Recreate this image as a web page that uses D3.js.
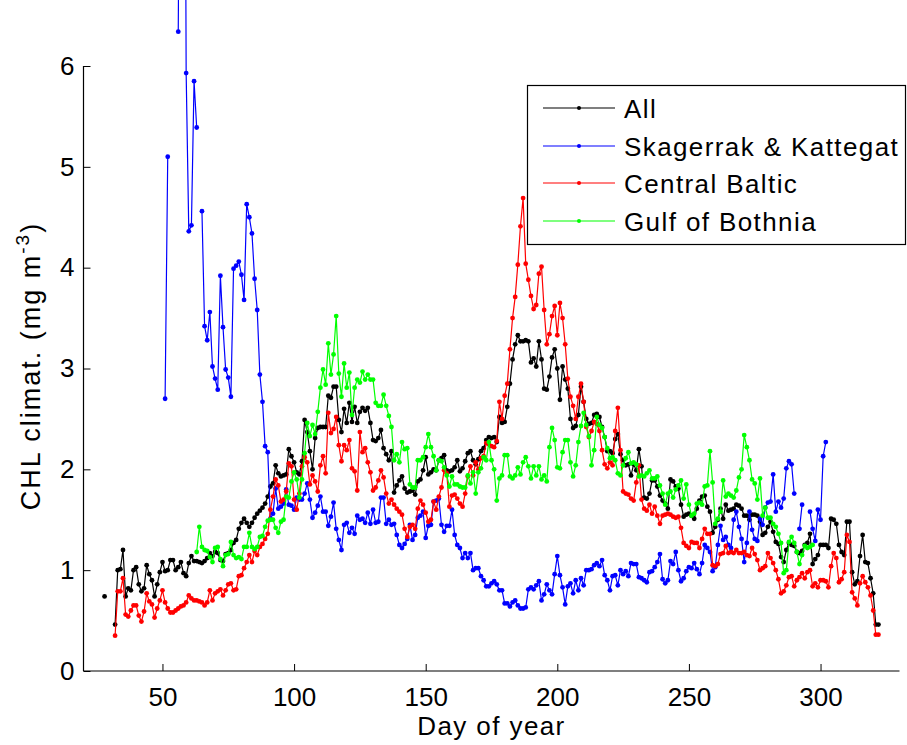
<!DOCTYPE html>
<html>
<head>
<meta charset="utf-8">
<script src="https://cdn.jsdelivr.net/npm/d3@7"></script>
<style>
body { margin: 0; background: #fff; }
text { font-family: "Liberation Sans", Arial, Helvetica, sans-serif; }
</style>
</head>
<body>
<div id="chart"></div>
<script>
// day of year where each series starts, then one value per day (null = no data)
var allStart = 28;
var allValues = [
	0.74, null, null, null, 0.46, 1.00, 1.01, 1.20, 0.74, 0.82,
	0.80, 1.00, 1.03, 0.86, 0.79, 0.82, 1.05, 0.96, 0.90, 0.74,
	0.86, 0.98, 1.08, 0.99, 1.00, 1.10, 1.10, 1.00, 1.03, 1.08,
	0.97, 0.94, 1.07, 1.14, 1.09, 1.09, 1.08, 1.07, 1.09, 1.12,
	1.17, 1.14, 1.18, 1.17, 1.10, 1.09, 1.16, 1.17, 1.20, 1.27,
	1.30, 1.41, 1.47, 1.51, 1.47, 1.43, 1.47, 1.52, 1.56, 1.59,
	1.62, 1.66, 1.73, 1.83, 1.86, 2.04, 1.96, 1.93, 1.94, 1.95,
	2.20, 2.13, 2.07, 1.97, 1.95, 2.08, 2.49, 2.37, 2.18, 2.00,
	2.31, 2.41, 2.42, 2.42, 2.42, 2.73, 2.71, 2.82, 2.82, 2.49,
	2.37, 2.60, 2.46, 2.66, 2.47, 2.62, 2.46, 2.57, 2.61, 2.58,
	2.61, 2.46, 2.29, 2.28, 2.31, 2.39, 2.21, 2.15, 2.09, 2.18,
	1.77, 1.84, 1.89, 1.93, 1.81, 1.77, 1.78, 1.79, 1.75, 1.88,
	1.90, 1.99, 2.12, 1.95, 1.97, 2.00, 1.99, 2.09, 2.11, 2.14,
	1.99, 1.98, 1.99, 2.02, 2.09, 1.98, 2.01, 2.08, 2.16, 2.18,
	2.09, 2.05, 2.10, 2.18, 2.21, 2.29, 2.32, 2.31, 2.32, 2.27,
	2.52, 2.46, 2.47, 2.62, 2.85, 3.09, 3.24, 3.33, 3.27, 3.27,
	3.28, 3.27, 3.06, 3.10, 3.02, 3.27, 3.09, 2.80, 2.79, 2.92,
	3.11, 3.19, 3.00, 2.69, 3.02, 2.89, 2.80, 2.50, 2.41, 2.43,
	2.54, 2.82, 2.67, 2.50, 2.45, 2.46, 2.54, 2.55, 2.52, 2.42,
	2.32, 2.18, 2.18, 2.16, 2.30, 2.35, 2.15, 2.09, 2.04, 2.05,
	1.94, 2.05, 1.99, 2.20, 2.03, 1.72, 1.71, 1.76, 1.89, 1.89,
	1.83, 1.74, 1.69, 1.66, 1.61, 1.90, 1.88, 1.83, 1.81, 1.65,
	1.53, 1.55, 1.56, 1.54, 1.51, 1.61, 1.69, 1.73, 1.74, 1.63,
	1.58, 1.37, 1.43, 1.50, 1.61, 1.51, 1.65, 1.59, 1.60, 1.61,
	1.65, 1.64, 1.61, 1.54, 1.54, 1.50, 1.55, 1.55, 1.54, 1.48,
	1.35, 1.37, 1.43, 1.48, 1.38, 1.28, 1.26, 1.13, 1.08, 1.20,
	1.27, 1.25, 1.24, 1.18, 1.17, 1.19, 1.25, 1.27, 1.36, 1.06,
	1.11, 1.15, 1.25, 1.25, 1.25, 1.22, 1.51, 1.50, 1.46, 1.25,
	1.18, 1.15, 1.48, 1.48, 0.98, 0.86, 0.89, 1.14, 1.35, 1.08,
	1.07, 0.92, 0.77, 0.46, 0.46
];

var skStart = 51;
var skValues = [
	2.70, 5.10, null, null, null, 6.34, 11.0, 13.0, 5.93, 4.36,
	4.42, 5.85, 5.39, null, 4.56, 3.42, 3.28, 3.56, 3.02, 2.90,
	2.79, 3.92, 3.41, 2.99, 2.91, 2.72, 3.99, 4.02, 4.06, 3.93,
	3.68, 4.63, 4.50, 4.34, 3.89, 3.58, 2.94, 2.67, 2.23, 2.17,
	1.51, 1.56, 1.81, 1.61, 1.63, 1.66, 1.80, 1.65, 1.64, 1.60,
	1.72, 1.70, 1.70, 1.76, 1.86, 1.70, 1.52, 1.57, 1.64, 1.73,
	1.58, 1.58, 1.44, 1.53, 1.67, 1.41, 1.30, 1.20, 1.45, 1.47,
	1.37, 1.42, 1.36, 1.54, 1.50, 1.51, 1.47, 1.57, 1.46, 1.60,
	1.47, 1.48, 1.72, 1.72, 1.46, 1.50, 1.45, 1.46, 1.35, 1.25,
	1.22, 1.26, 1.31, 1.45, 1.30, 1.35, 1.52, 1.54, 1.58, 1.32,
	1.44, 1.45, 1.68, 1.69, 1.71, 1.45, 1.38, 1.44, 1.44, 1.60,
	1.35, 1.25, 1.22, 1.12, 1.17, 1.12, 1.17, 1.00, 1.02, 1.02,
	0.94, 0.90, 0.84, 0.84, 0.87, 0.89, 0.86, 0.80, 0.80, 0.67,
	0.67, 0.64, 0.68, 0.70, 0.65, 0.62, 0.62, 0.63, 0.81, 0.83,
	0.81, 0.85, 0.89, 0.70, 0.76, 0.86, 0.80, 0.76, 0.96, 1.14,
	0.95, 0.83, 0.66, 0.84, 0.87, 0.77, 0.90, 0.80, 0.92, 0.85,
	1.00, 1.00, 1.01, 1.05, 1.07, 1.04, 1.10, 0.95, 0.90, 0.80,
	0.94, 0.95, 0.85, 1.00, 0.96, 0.99, 0.94, 1.07, 1.06, 1.06,
	0.93, 0.92, 0.90, 0.88, 0.98, 0.99, 1.03, 1.08, 1.16, 0.91,
	0.87, 0.90, 1.09, 1.06, 1.18, 1.00, 0.89, 0.92, 0.99, 1.03,
	1.02, 1.07, 1.01, 0.96, 1.07, 1.25, 1.22, 1.18, 0.99, 1.03,
	1.25, 1.44, 1.30, 1.33, 1.25, 1.22, 1.50, 1.58, 1.43, 1.31,
	1.08, 1.27, 1.58, 1.40, 1.31, 1.29, 1.51, 1.45, 1.62, 1.67,
	1.68, 1.95, 1.58, 1.68, 1.62, 1.71, 2.01, 2.08, 2.05, 1.76,
	null, 1.41, 1.65, null, null, 1.58, 1.41, 1.29, 1.60, 1.50,
	2.13, 2.27
];

var cbStart = 32;
var cbValues = [
	0.35, 0.79, 0.79, 0.92, 0.56, 0.54, 0.60, 0.65, 0.65, 0.55,
	0.49, 0.59, 0.77, 0.69, 0.66, 0.53, 0.62, 0.70, 0.80, 0.68,
	0.62, 0.58, 0.58, 0.60, 0.62, 0.64, 0.65, 0.68, 0.75, 0.72,
	0.70, 0.70, 0.69, 0.68, 0.65, 0.68, 0.80, 0.70, 0.77, 0.79,
	0.81, 0.75, 0.80, 0.86, 0.87, 0.80, 0.81, 0.94, 0.95, 1.02,
	1.08, 1.15, 1.08, 1.19, 1.15, 1.23, 1.26, 1.31, 1.36, 1.60,
	1.73, 1.90, 1.84, 1.68, 1.70, 1.78, 2.06, 2.03, 1.70, 1.60,
	1.76, 2.03, 2.12, 2.07, 1.85, 1.94, 1.88, 1.78, 2.04, 2.13,
	1.96, 2.56, 2.36, 2.40, 2.52, 2.24, 2.08, 2.24, 2.19, 2.29,
	2.01, 1.98, 1.79, 2.37, 2.17, 2.21, 2.07, 1.97, 1.79, 1.82,
	1.89, 1.99, 1.92, 1.76, 1.66, 1.70, 1.65, 1.61, 1.58, 1.55,
	1.41, 1.33, 1.43, 1.45, 1.41, 1.61, 1.69, 1.65, 1.57, 1.48,
	1.50, 1.68, 1.60, 1.73, 1.82, 1.99, 1.96, 1.63, 1.74, 1.75,
	1.71, 1.66, 1.63, 1.76, 1.93, 2.03, 1.94, 2.07, 2.00, 2.11,
	2.13, 2.26, 2.25, 2.23, 2.22, 2.28, 2.67, 2.50, 2.73, 2.85,
	3.19, 3.50, 3.71, 4.03, 4.41, 4.69, 4.04, 3.88, 3.72, 3.59,
	3.63, 3.94, 4.01, 3.58, 3.24, 3.34, 3.52, 3.62, 3.33, 3.65,
	3.50, 3.24, 2.90, 2.72, 2.63, 2.50, 2.72, 2.85, 2.67, 2.42,
	2.32, 2.38, 2.47, 2.45, 2.38, 2.19, 2.05, 2.01, 2.07, 2.04,
	2.38, 2.61, 2.19, 1.78, 1.76, 1.75, 1.71, 1.69, 1.87, 2.04,
	1.70, 1.61, 1.59, 1.65, 1.56, 1.63, 1.54, 1.46, 1.54, 1.55,
	1.56, 1.55, 1.53, 1.52, 1.53, 1.42, 1.27, 1.24, 1.22, 1.28,
	1.27, 1.27, 1.22, 1.31, 1.41, 1.36, 1.36, 1.05, 1.04, 1.06,
	1.16, 1.17, 1.24, 1.17, 1.18, 1.17, 1.20, 1.17, 1.17, 1.18,
	1.15, 1.14, 1.22, 1.16, 1.10, 1.00, 1.02, 1.04, 1.17, 1.12,
	1.07, 1.00, 0.91, 0.77, 0.79, 0.85, 0.93, 0.94, 0.84, 0.90,
	0.93, 0.97, 0.92, 0.98, 1.00, 0.84, 0.87, 0.83, 0.90, 0.90,
	0.89, 0.83, 1.04, 1.17, 1.12, 0.88, 0.91, 0.98, 1.35, 1.28,
	0.78, 0.72, 0.65, 0.87, 0.94, 0.88, 0.83, 0.75, 0.60, 0.36,
	0.36
];

var gbStart = 63;
var gbValues = [
	1.18, 1.43, 1.23, 1.20, 1.19, 1.13, 1.08, 1.22, 1.23, 1.11,
	1.04, 1.15, 1.16, 1.28, 1.15, 1.12, 1.13, 1.11, 1.23, 1.23,
	1.37, 1.23, 1.21, 1.23, 1.33, 1.34, 1.43, 1.49, 1.50, 1.50,
	1.42, 1.37, 1.48, 1.50, 1.73, 1.72, 1.88, 1.97, 1.90, 1.72,
	1.90, 2.16, 2.46, 2.33, 2.44, 2.35, 2.57, 2.81, 2.99, 2.84,
	3.25, 2.94, 3.14, 3.52, 2.95, 2.72, 3.05, 2.81, 2.96, 2.54,
	2.81, 2.89, 2.86, 2.97, 2.89, 2.94, 2.89, 2.89, 2.66, 2.63,
	2.63, 2.74, 2.63, 2.53, 2.42, 2.09, 2.15, 2.07, 2.27, 2.20,
	2.21, 1.85, 1.82, 1.82, 2.09, 2.09, 2.12, 2.22, 2.35, 2.22,
	2.13, 1.99, 2.09, 2.08, 2.02, 1.94, 1.83, 1.93, 1.85, 1.85,
	1.83, 1.82, 1.82, 1.94, 1.86, 1.97, 1.76, 1.97, 2.01, 2.12,
	2.09, 2.27, 2.09, 2.00, 1.69, 1.91, 1.94, 2.14, 2.14, 1.93,
	1.91, 1.94, 2.02, 1.95, 2.07, 2.12, 2.03, 1.91, 2.03, 1.94,
	2.03, 1.90, 1.94, 1.88, 2.22, 2.41, 2.29, 2.02, 2.01, 2.17,
	2.29, 2.29, 2.07, 1.93, 2.04, 2.27, 2.43, 2.56, 2.44, 2.33,
	2.04, 2.19, 2.52, 2.44, 2.41, 2.32, 2.21, 2.11, 2.12, 2.09,
	1.96, 1.94, 2.04, 2.11, 2.17, 2.06, 2.07, 2.05, 1.93, 1.94,
	1.93, 1.96, 1.99, 1.91, 1.91, 1.93, 1.84, 1.76, 1.65, 1.76,
	1.78, 1.72, 1.80, 1.84, 1.89, 1.71, 1.85, 1.65, 1.54, 1.56,
	1.66, 1.67, 1.65, 1.83, 1.84, 2.18, 1.87, 1.46, 1.51, 1.58,
	1.89, 1.73, 1.76, 1.74, 1.72, 1.79, 1.92, 2.00, 2.34, 2.22,
	2.09, 1.90, 1.86, 1.70, 1.91, 1.54, 1.62, 1.52, 1.52, 1.46,
	1.43, 1.36, 1.27, 0.97, 1.00, 1.28, 1.33, 1.27, 1.18, 1.06,
	1.15, 1.24, 1.22, 1.23, 1.25
];

var seriesNames = ["All", "Skagerrak & Kattegat", "Central Baltic", "Gulf of Bothnia"];
var xTicks = [50, 100, 150, 200, 250, 300];
var yTicks = [0, 1, 2, 3, 4, 5, 6];

var colors = ["#000000", "#0000ff", "#ff0000", "#00ff00"];

function toPoints(start, values) {
	return values.map(function(v, i) { return {day: start + i, value: v}; });
}

var series = [
	toPoints(allStart, allValues),
	toPoints(skStart, skValues),
	toPoints(cbStart, cbValues),
	toPoints(gbStart, gbValues)
];

var svgWidth = 907;
var svgHeight = 745;
var plot = {left: 83.5, right: 899.5, top: 0, bottom: 671};
var fontSize = 26;

var x = d3.scaleLinear().domain([20, 330]).range([plot.left, plot.right]);
var y = d3.scaleLinear().domain([0, 6]).range([plot.bottom, 66]);

var svg = d3.select('#chart').append('svg')
	.attr('width', svgWidth).attr('height', svgHeight);

// the data is not clipped at the top of the axes (it runs up to the figure edge)
svg.append('clipPath').attr('id', 'plotclip')
	.append('rect')
	.attr('x', plot.left).attr('y', plot.top)
	.attr('width', plot.right - plot.left).attr('height', plot.bottom - plot.top);

var line = d3.line()
	.defined(function(d) { return d.value !== null; })
	.x(function(d) { return x(d.day); })
	.y(function(d) { return y(d.value); });

var marks = svg.append('g').attr('clip-path', 'url(#plotclip)');

series.forEach(function(s, i) {
	var g = marks.append('g');
	g.append('path').datum(s)
		.attr('fill', 'none')
		.attr('stroke', colors[i])
		.attr('stroke-width', 1.2)
		.attr('d', line);
	g.selectAll('circle').data(s.filter(function(d) { return d.value !== null; }))
		.enter().append('circle')
		.attr('cx', function(d) { return x(d.day); })
		.attr('cy', function(d) { return y(d.value); })
		.attr('r', 2.4)
		.attr('fill', colors[i]);
});

// axes (ticks point inward, like the original)
var xAxis = svg.append('g')
	.attr('transform', 'translate(0,' + plot.bottom + ')')
	.call(d3.axisBottom(x).tickValues(xTicks).tickSize(-7).tickFormat(d3.format('d')));
var yAxis = svg.append('g')
	.attr('transform', 'translate(' + plot.left + ',0)')
	.call(d3.axisLeft(y).tickValues(yTicks).tickSize(-7).tickFormat(d3.format('d')));

[xAxis, yAxis].forEach(function(a) {
	a.select('.domain').remove();
	a.selectAll('.tick line').attr('stroke', '#000').attr('stroke-width', 1);
	a.selectAll('.tick text')
		.style('font-size', fontSize + 'px')
		.style('font-family', '"Liberation Sans", Arial, sans-serif')
		.attr('fill', '#000');
});
xAxis.selectAll('.tick text').attr('y', 17);
yAxis.selectAll('.tick text').attr('x', -9);

svg.append('line')
	.attr('x1', plot.left).attr('x2', plot.right)
	.attr('y1', plot.bottom).attr('y2', plot.bottom)
	.attr('stroke', '#000').attr('stroke-width', 1.2);
svg.append('line')
	.attr('x1', plot.left).attr('x2', plot.left)
	.attr('y1', y(6)).attr('y2', plot.bottom)
	.attr('stroke', '#000').attr('stroke-width', 1.2);

svg.append('text')
	.attr('x', (plot.left + plot.right) / 2).attr('y', 735)
	.attr('text-anchor', 'middle')
	.style('font-size', fontSize + 'px').style('letter-spacing', '1.4px')
	.text('Day of year');

var ylab = svg.append('text')
	.attr('transform', 'translate(40,' + 366 + ') rotate(-90)')
	.attr('text-anchor', 'middle')
	.style('font-size', '27px').style('letter-spacing', '2px');
ylab.append('tspan').text('CHL climat. (mg m');
ylab.append('tspan').attr('dy', -11).style('font-size', '19px').text('-3');
ylab.append('tspan').attr('dy', 11).text(')');

// legend
var legend = svg.append('g');
legend.append('rect')
	.attr('x', 527.5).attr('y', 85.5)
	.attr('width', 378).attr('height', 159)
	.attr('fill', '#fff').attr('stroke', '#000').attr('stroke-width', 1.2);

var legendRows = [108, 146, 183, 221];
seriesNames.forEach(function(name, i) {
	var row = legend.append('g').attr('transform', 'translate(0,' + legendRows[i] + ')');
	row.append('line')
		.attr('x1', 543).attr('x2', 615)
		.attr('stroke', colors[i]).attr('stroke-width', 1.2);
	row.append('circle').attr('cx', 579).attr('r', 2).attr('fill', colors[i]);
	row.append('text')
		.attr('x', 624).attr('y', 9.5)
		.style('font-size', fontSize + 'px').style('letter-spacing', '1.4px')
		.text(name);
});
</script>
</body>
</html>
